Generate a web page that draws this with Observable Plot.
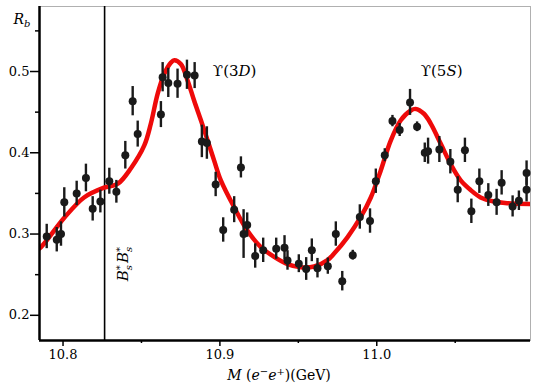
<!DOCTYPE html>
<html><head><meta charset="utf-8">
<script src="https://cdn.jsdelivr.net/npm/d3@7"></script>
<script src="https://cdn.jsdelivr.net/npm/@observablehq/plot@0.6"></script>
<style>body{margin:0;background:#fff}</style>
</head><body><div id="chart"></div>
<script>
// Data points: mass (GeV), R_b, error
const massPts = [10.7896,10.796,10.7987,10.8008,10.8087,10.8146,10.8189,10.8238,10.8295,10.834,10.8397,10.8444,10.8476,10.8624,10.8635,10.8671,10.873,10.879,10.8839,10.8885,10.8917,10.8973,10.9021,10.9091,10.9134,10.9151,10.9174,10.9225,10.9276,10.9359,10.9412,10.9431,10.9503,10.955,10.9586,10.9622,10.9688,10.9739,10.978,10.9847,10.9892,10.9957,10.9994,11.0051,11.01,11.0146,11.0212,11.0257,11.0306,11.0327,11.0399,11.0469,11.0516,11.0562,11.0603,11.0654,11.0711,11.0764,11.0796,11.0866,11.0906,11.0955,11.0955];
const rbPts = [0.297,0.293,0.300,0.339,0.350,0.369,0.331,0.340,0.365,0.352,0.397,0.4635,0.423,0.447,0.493,0.486,0.485,0.496,0.495,0.414,0.412,0.361,0.305,0.330,0.382,0.300,0.311,0.273,0.280,0.282,0.283,0.2675,0.2635,0.257,0.280,0.258,0.2605,0.300,0.242,0.274,0.321,0.316,0.365,0.397,0.439,0.428,0.462,0.432,0.400,0.402,0.404,0.389,0.3545,0.403,0.328,0.365,0.348,0.339,0.363,0.334,0.341,0.3545,0.375];
const rbErr = [0.015,0.015,0.015,0.018,0.015,0.017,0.015,0.014,0.016,0.014,0.017,0.018,0.016,0.016,0.018,0.018,0.018,0.018,0.016,0.02,0.02,0.015,0.015,0.016,0.013,0.03,0.015,0.015,0.015,0.013,0.015,0.012,0.011,0.014,0.014,0.012,0.01,0.015,0.012,0.006,0.015,0.015,0.015,0.008,0.007,0.008,0.016,0.006,0.012,0.016,0.016,0.015,0.016,0.015,0.015,0.015,0.014,0.016,0.015,0.013,0.012,0.015,0.015];
// Fit curve
const fitMass = [10.783,10.786,10.8008,10.8134,10.8261,10.835,10.8433,10.8518,10.856,10.8603,10.8645,10.8688,10.8709,10.8752,10.8794,10.8836,10.8879,10.8922,10.8964,10.9006,10.9091,10.9176,10.9261,10.9346,10.9431,10.9516,10.9601,10.9686,10.9728,10.9813,10.9898,10.9962,11.0025,11.0089,11.0153,11.0217,11.0248,11.0301,11.0344,11.0408,11.0471,11.0535,11.0599,11.0662,11.0747,11.0832,11.0981,11.1];
const fitRb = [0.280,0.284,0.320,0.345,0.357,0.362,0.381,0.409,0.436,0.4725,0.497,0.511,0.514,0.509,0.489,0.464,0.440,0.415,0.390,0.366,0.333,0.304,0.284,0.272,0.263,0.259,0.260,0.268,0.276,0.296,0.321,0.345,0.378,0.415,0.440,0.452,0.454,0.448,0.436,0.411,0.386,0.366,0.354,0.345,0.340,0.338,0.337,0.337];
const threshold = [10.8265];
const xMajor = [10.8,10.9,11.0];
const xMajorLabels = ["10.8","10.9","11.0"];
const xMinor = [10.85,10.95,11.05];
const yMajor = [0.2,0.3,0.4,0.5];
const yMajorLabels = ["0.2","0.3","0.4","0.5"];
const yMinor = [0.25,0.35,0.45,0.55];
const peakLabels = ["ϒ(3D)","ϒ(5S)"];
const peakMass = [10.8955,11.028];
const peakRb = [0.5005,0.5005];

const pts = massPts.map((m,i)=>({m, r: rbPts[i], e: rbErr[i]}));
const fit = fitMass.map((m,i)=>({m, r: fitRb[i]}));
const peaks = peakLabels.map((t,i)=>({t, m: peakMass[i], r: peakRb[i]}));
const xDom = [10.785, 11.098], yDom = [0.169, 0.58];
const fmt = (ticks, labels) => d => { const i = ticks.findIndex(t => Math.abs(t-d) < 1e-9); return i < 0 ? "" : labels[i]; };

const svg = Plot.plot({
  width: 534, height: 388,
  marginLeft: 39, marginRight: 4, marginTop: 6, marginBottom: 48,
  style: {fontFamily: "DejaVu Serif", fontSize: "13px", color: "black", background: "white"},
  x: {domain: xDom, label: null},
  y: {domain: yDom, label: null},
  marks: [
    Plot.frame({stroke: "#b0b0b0", strokeWidth: 1}),
    Plot.ruleX(threshold, {stroke: "black", strokeWidth: 1.6}),
    Plot.line(fit, {x: "m", y: "r", stroke: "#ee0a0a", strokeWidth: 4.5, curve: "catmull-rom", clip: true}),
    Plot.ruleX(pts, {x: "m", y1: d => d.r - d.e, y2: d => d.r + d.e, stroke: "#1a1a1a", strokeWidth: 2.4}),
    Plot.dot(pts, {x: "m", y: "r", r: 4, fill: "#1a1a1a", stroke: null}),
    Plot.ruleX([xDom[0]], {stroke: "black", strokeWidth: 2.5}),
    Plot.ruleY([yDom[0]], {stroke: "black", strokeWidth: 2.5}),
    Plot.axisX(xMajor, {tickFormat: fmt(xMajor, xMajorLabels), tickSize: 6, tickPadding: 3, stroke: "black", strokeWidth: 1.5, fill: "black", label: null}),
    Plot.axisX(xMinor, {tickFormat: () => "", tickSize: 3, stroke: "black", strokeWidth: 1.5, label: null}),
    Plot.axisY(yMajor, {tickFormat: fmt(yMajor, yMajorLabels), tickSize: 9, tickPadding: 1, stroke: "black", strokeWidth: 1.5, fill: "black", label: null}),
    Plot.axisY(yMinor, {tickFormat: () => "", tickSize: 4, stroke: "black", strokeWidth: 1.5, label: null}),
    Plot.text(peaks, {x: "m", y: "r", text: "t", textAnchor: "start", fill: "black", fontSize: 15}),
    Plot.text(["BSBS"], {x: () => 10.8385, y: () => 0.263, rotate: -90, fill: "black", fontSize: 15}),
    Plot.text(["RB"], {frameAnchor: "top-left", dx: -26, dy: 8, fill: "black", fontSize: 14}),
    Plot.text(["XLABEL"], {frameAnchor: "bottom", dx: -6, dy: 39, fill: "black", fontSize: 14})
  ]
});
document.getElementById("chart").appendChild(svg);

const sup = 'font-size="10"';
const repl = {
  "ϒ(3D)": 'ϒ(3<tspan font-style="italic">D</tspan>)',
  "ϒ(5S)": 'ϒ(5<tspan font-style="italic">S</tspan>)',
  "BSBS": '<tspan font-style="italic">B</tspan><tspan ' + sup + ' baseline-shift="5">*</tspan><tspan ' + sup + ' dx="-5" baseline-shift="-4" font-style="italic">s</tspan><tspan dx="2" font-style="italic">B</tspan><tspan ' + sup + ' baseline-shift="5">*</tspan><tspan ' + sup + ' dx="-5" baseline-shift="-4" font-style="italic">s</tspan>',
  "RB": '<tspan font-style="italic">R</tspan><tspan ' + sup + ' baseline-shift="-3" font-style="italic">b</tspan>',
  "XLABEL": '<tspan font-style="italic">M</tspan> (<tspan font-style="italic">e</tspan><tspan ' + sup + ' baseline-shift="5">−</tspan><tspan font-style="italic">e</tspan><tspan ' + sup + ' baseline-shift="5">+</tspan>)(GeV)'
};
d3.select(svg).selectAll("text").each(function() {
  const t = this.textContent;
  if (repl[t]) this.innerHTML = repl[t];
});
</script>
</body></html>
